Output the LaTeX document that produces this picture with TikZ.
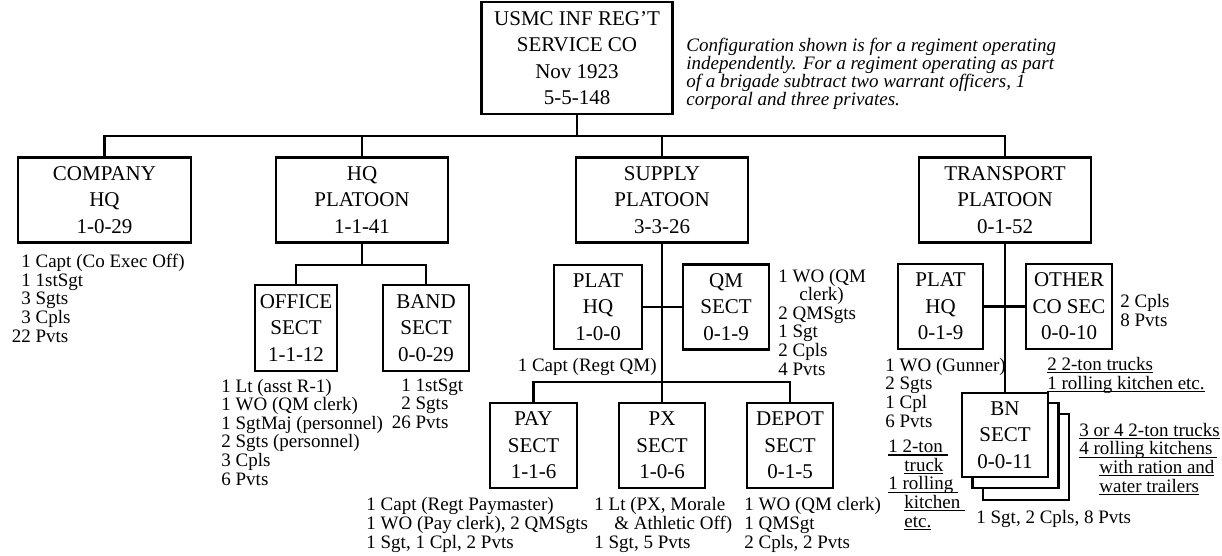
\documentclass[tikz,border=0pt]{standalone}
\usepackage{fontspec}
\setmainfont{Liberation Serif}
\newsavebox\ulbox
\newcommand\ulx[1]{\sbox\ulbox{#1}\rlap{\rule[-3pt]{\wd\ulbox}{1.3pt}}\usebox\ulbox}
\begin{document}
\begin{tikzpicture}[x=1pt,y=-1pt,line width=2.8pt,
  box/.style={draw,line width=2.8pt,inner sep=0pt,align=center,fill=white,
    font=\fontsize{21}{26.5}\selectfont},
  lst/.style={inner sep=0pt,align=left,anchor=base west,
    font=\fontsize{19}{18.6}\selectfont},
  note/.style={inner sep=0pt,align=left,anchor=base west,
    font=\fontsize{19}{18.3}\selectfont\itshape}]
\useasboundingbox (0,0) rectangle (1222,556);
% boxes
\node[box,minimum width=191pt,minimum height=112pt] (top) at (577,58) {USMC INF REG’T\\SERVICE CO\\Nov 1923\\5-5-148};
\node[box,minimum width=173pt,minimum height=85pt] (comp) at (104.5,200) {COMPANY\\HQ\\1-0-29};
\node[box,minimum width=172pt,minimum height=85pt] (hqp) at (362,200) {HQ\\PLATOON\\1-1-41};
\node[box,minimum width=172pt,minimum height=85pt] (sup) at (662,200) {SUPPLY\\PLATOON\\3-3-26};
\node[box,minimum width=172pt,minimum height=85pt] (trn) at (1005,200) {TRANSPORT\\PLATOON\\0-1-52};
\node[box,minimum width=82pt,minimum height=86pt] (off) at (296,328) {OFFICE\\SECT\\1-1-12};
\node[box,minimum width=86pt,minimum height=86pt] (band) at (426,328) {BAND\\SECT\\0-0-29};
\node[box,minimum width=88pt,minimum height=84pt] (splhq) at (598,307) {PLAT\\HQ\\1-0-0};
\node[box,minimum width=86pt,minimum height=85pt] (qm) at (726,307) {QM\\SECT\\0-1-9};
\node[box,minimum width=87pt,minimum height=85pt] (pay) at (533.5,445.5) {PAY\\SECT\\1-1-6};
\node[box,minimum width=86pt,minimum height=85pt] (px) at (662,445.5) {PX\\SECT\\1-0-6};
\node[box,minimum width=86pt,minimum height=85pt] (dep) at (790,445.5) {DEPOT\\SECT\\0-1-5};
\node[box,minimum width=85pt,minimum height=85pt] (tplhq) at (940.5,306.5) {PLAT\\HQ\\0-1-9};
\node[box,minimum width=86pt,minimum height=85pt] (oth) at (1069,306.5) {OTHER\\CO SEC\\0-0-10};
\node[box,minimum width=86pt,minimum height=86pt] (bn3) at (1026,457) {};
\node[box,minimum width=86pt,minimum height=85pt] (bn2) at (1015.5,445.5) {};
\node[box,minimum width=86pt,minimum height=84pt] (bn) at (1005,435) {BN\\SECT\\0-0-11};
% connectors
\coordinate (j1) at (577,136);
\draw (top.south) -- (j1);
\draw (comp.north) |- (j1) -| (trn.north);
\draw (hqp.north) -- (hqp.north |- j1);
\draw (sup.north) -- (sup.north |- j1);
\coordinate (j2) at (362,265);
\draw (hqp.south) -- (j2);
\draw (off.north) |- (j2) -| (band.north);
\coordinate (j3) at (662,382);
\draw (sup.south) -- (px.north);
\draw (pay.north) |- (j3) -| (dep.north);
\draw (splhq.east) -- (qm.west);
\draw (trn.south) -- (bn.north);
\draw (tplhq.east) -- (oth.west);
% note (anchor = baseline of last line)
\node[note] (nt) at (685,106) {Configuration shown is for a regiment operating\\independently. For a regiment operating as part\\of a brigade subtract two warrant officers, 1\\corporal and three privates.};
% lists (anchor = baseline of last line)
\node[lst] (lcomp) at (10.5,342) {\phantom{2}1 Capt (Co Exec Off)\\\phantom{2}1 1stSgt\\\phantom{2}3 Sgts\\\phantom{2}3 Cpls\\22 Pvts};
\node[lst] (loff) at (220,485) {1 Lt (asst R-1)\\1 WO (QM clerk)\\1 SgtMaj (personnel)\\2 Sgts (personnel)\\3 Cpls\\6 Pvts};
\node[lst] (lband) at (390.5,428.5) {\phantom{2}1 1stSgt\\\phantom{2}2 Sgts\\26 Pvts};
\node[lst,anchor=base east] (lsplhq) at (658,371) {1 Capt (Regt QM)};
\node[lst] (lqm) at (777,375) {1 WO (QM\\\hspace{21pt}clerk)\\2 QMSgts\\1 Sgt\\2 Cpls\\4 Pvts};
\node[lst] (lpay) at (365,548) {1 Capt (Regt Paymaster)\\1 WO (Pay clerk), 2 QMSgts\\1 Sgt, 1 Cpl, 2 Pvts};
\node[lst] (lpx) at (593,548) {1 Lt (PX, Morale\\\hspace{20pt}\& Athletic Off)\\1 Sgt, 5 Pvts};
\node[lst] (ldep) at (743,548) {1 WO (QM clerk)\\1 QMSgt\\2 Cpls, 2 Pvts};
\node[lst] (ltpl) at (884,427) {1 WO (Gunner)\\2 Sgts\\1 Cpl\\6 Pvts};
\node[lst] (loth) at (1119,326) {2 Cpls\\8 Pvts};
\node[lst] (ltr1) at (887,527) {\ulx{1 2-ton\ }\\\hspace{16pt}\ulx{truck}\\\ulx{1 rolling\ }\\\hspace{16pt}\ulx{kitchen\ }\\\hspace{16pt}\ulx{etc.}};
\node[lst] (ltr2) at (1046,389) {\ulx{2 2-ton trucks}\\\ulx{1 rolling kitchen etc.}};
\node[lst] (ltr3) at (1078,492) {\ulx{3 or 4 2-ton trucks}\\\ulx{4 rolling kitchens\ }\\\hspace{20pt}\ulx{with ration and}\\\hspace{20pt}\ulx{water trailers}};
\node[lst] (lbn) at (975,523) {1 Sgt, 2 Cpls, 8 Pvts};
\end{tikzpicture}
\end{document}
